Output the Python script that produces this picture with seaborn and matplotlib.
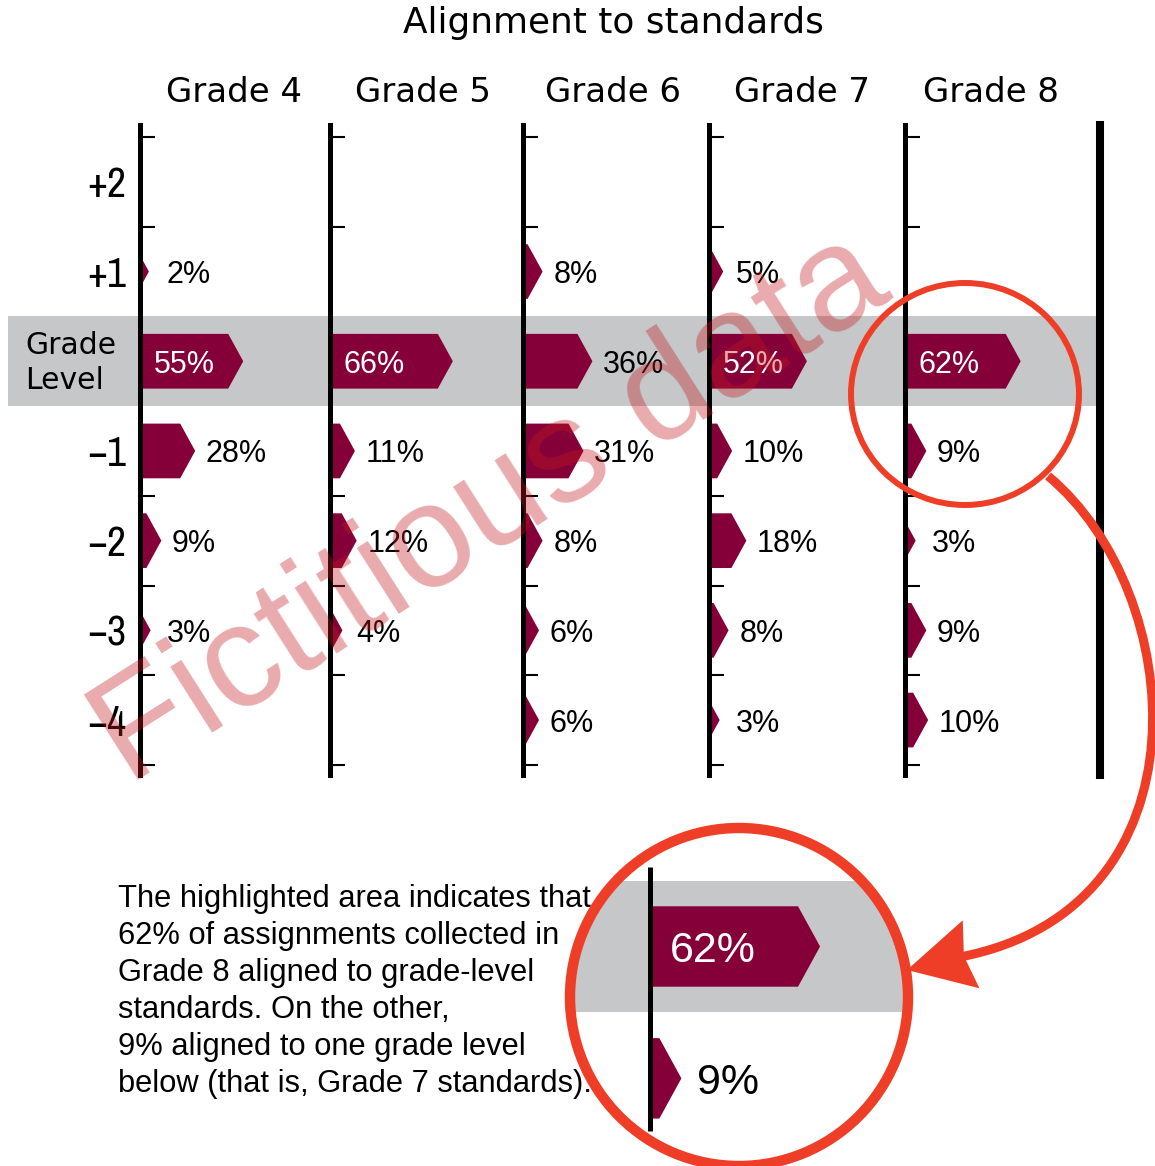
import matplotlib
matplotlib.use("Agg")
import matplotlib.pyplot as plt
from matplotlib import font_manager
from matplotlib.patches import Circle, Ellipse, PathPatch, Polygon
from matplotlib.path import Path
import numpy as np
import seaborn as sns

# ---- data ----
levels = ["+2", "+1", "Grade\nLevel", "\u22121", "\u22122", "\u22123", "\u22124"]
grades = ["Grade 4", "Grade 5", "Grade 6", "Grade 7", "Grade 8"]
grade4 = [0, 2, 55, 28, 9, 3, 0]
grade5 = [0, 0, 66, 11, 12, 4, 0]
grade6 = [0, 8, 36, 31, 8, 6, 6]
grade7 = [0, 5, 52, 10, 18, 8, 3]
grade8 = [0, 0, 62, 9, 3, 9, 10]
title = "Alignment to standards"
note_lines = [
    "The highlighted area indicates that",
    "62% of assignments collected in",
    "Grade 8 aligned to grade-level",
    "standards. On the other,",
    "9% aligned to one grade level",
    "below (that is, Grade 7 standards).",
]
watermark = "Fictitious data"

sns.set_theme(style="white")
plt.rcParams["font.family"] = ["DejaVu Sans"]
plt.rcParams["text.color"] = "black"

W, H = 1155, 1166
MAROON = "#850038"
GRAY = "#c6c7c9"
RED = "#ef3e27"
ARIAL = "Liberation Sans"

# a narrow face for the row labels, if one is installed
fonts = font_manager.fontManager.ttflist
narrow = [f.name for f in fonts if "Narrow" in f.name or "Condensed" in f.name]
if narrow:
    ROW_FONT = dict(family=narrow[0], fontsize=30)
elif any(f.name == "DejaVu Sans" and f.stretch == "condensed" for f in fonts):
    ROW_FONT = dict(family="DejaVu Sans", fontstretch="condensed", fontsize=28)
else:
    ROW_FONT = dict(family="DejaVu Sans", fontsize=24)

# layout (pixels)
col_x = [140, 330, 523, 709, 905, 1100]
ROW_PX = 89.7
PX_PCT = 1.78
ORIGIN = -3
TIP = 15 / PX_PCT
BAR_H = 0.61
y_top = -0.5 - (137 - 125) / ROW_PX
y_bot = -0.5 + (775 - 137) / ROW_PX

fig = plt.figure(figsize=(W / 100, H / 100), dpi=100)
fig.patch.set_facecolor("white")


def px_axes(x0, y0, x1, y1):
    return fig.add_axes([x0 / W, 1 - y1 / H, (x1 - x0) / W, (y1 - y0) / H])


def draw_bars(ax, values, fs, rows=None):
    for r, v in enumerate(values):
        if not v or (rows is not None and r not in rows):
            continue
        L = v - ORIGIN
        if L <= TIP:
            hh = BAR_H / 2 * L / TIP
            pts = [(ORIGIN, r - hh), (v, r), (ORIGIN, r + hh)]
        else:
            pts = [(ORIGIN, r - BAR_H / 2), (v - TIP, r - BAR_H / 2), (v, r),
                   (v - TIP, r + BAR_H / 2), (ORIGIN, r + BAR_H / 2)]
        ax.add_patch(Polygon(pts, closed=True, facecolor=MAROON, edgecolor="none", zorder=2))
        if v >= 45:
            ax.text(4.5, r, f"{v}%", color="white", fontsize=fs, family=ARIAL,
                    ha="left", va="center_baseline", zorder=3)
        else:
            ax.text(max(v + 6, 12), r, f"{v}%", color="black", fontsize=fs, family=ARIAL,
                    ha="left", va="center_baseline", zorder=3)


# row labels + band on the left
ax_lab = px_axes(8, 125, 140, 775)
ax_lab.set_xlim(8, 140)
ax_lab.set_ylim(y_bot, y_top)
ax_lab.axis("off")
ax_lab.axhspan(1.5, 2.5, color=GRAY, lw=0, zorder=0)
for r, lab in enumerate(levels):
    if "\n" in lab:
        ax_lab.text(25, r + 0.02, lab, ha="left", va="center", fontsize=21.5, linespacing=1.3)
    else:
        ax_lab.text(126, r, lab, ha="right", va="center_baseline", **ROW_FONT)

# one axes per grade
all_grades = [grade4, grade5, grade6, grade7, grade8]
for i, vals in enumerate(all_grades):
    ax = px_axes(col_x[i], 125, col_x[i + 1], 775)
    ax.set_xlim(ORIGIN, ORIGIN + (col_x[i + 1] - col_x[i]) / PX_PCT)
    ax.set_ylim(y_bot, y_top)
    ax.patch.set_visible(False)
    ax.axhspan(1.5, 2.5, color=GRAY, lw=0, zorder=0)
    for s in ["top", "bottom", "right"]:
        ax.spines[s].set_visible(False)
    ax.spines["left"].set_color("black")
    ax.spines["left"].set_linewidth(3.6)
    if i == len(all_grades) - 1:
        ax.spines["right"].set_visible(True)
        ax.spines["right"].set_color("black")
        ax.spines["right"].set_linewidth(5.8)
    ax.set_xticks([])
    ax.set_yticks([-0.5, 0.5, 3.5, 4.5, 5.5, 6.5])
    ax.tick_params(axis="y", direction="in", length=10.8, width=1.5, color="black",
                   left=True, labelleft=False)
    draw_bars(ax, vals, 22)
    fig.text((234 + 189.3 * i) / W, 1 - 92 / H, grades[i], ha="center", va="center",
             fontsize=24.5)

fig.text(613 / W, 1 - 23 / H, title, ha="center", va="center", fontsize=25.8)

for k, line in enumerate(note_lines):
    fig.text(118 / W, 1 - (907 + 37 * k) / H, line, ha="left", va="baseline",
             fontsize=22.2, family=ARIAL)

# overlay in pixel coordinates
ov = fig.add_axes([0, 0, 1, 1])
ov.set_xlim(0, W)
ov.set_ylim(H, 0)
ov.axis("off")
ov.set_zorder(10)

# zoomed inset for grade 8 (grade level and one below)
ZOOM = 1.47
ax_in = px_axes(570, 828, 908, 1166)
ax_in.set_zorder(5)
ppx, ppy = PX_PCT * ZOOM, ROW_PX * ZOOM
ax_in.set_xlim(ORIGIN - (650 - 570) / ppx, ORIGIN + (908 - 650) / ppx)
ax_in.set_ylim(2 + (1166 - 946.5) / ppy, 2 - (946.5 - 828) / ppy)
ax_in.axis("off")
ax_in.axhspan(1.5, 2.5, color=GRAY, lw=0, zorder=0)
ax_in.vlines(ORIGIN, 1.4, 3.4, color="black", lw=3.6, zorder=4)
draw_bars(ax_in, grade8, 31, rows=[2, 3])
clip = Circle((739, 997), 166, transform=ov.transData)
for art in ax_in.patches + ax_in.texts + ax_in.collections + ax_in.lines:
    art.set_clip_on(True)
    art.set_clip_path(clip)

ov.text(491, 510, watermark, rotation=32.5, rotation_mode="anchor", ha="center", va="center",
        fontsize=106, family=ARIAL, color="#c31b20", alpha=0.37)
ov.add_patch(Ellipse((965, 394), 228, 222, fill=False, ec=RED, lw=4.3))
ov.add_patch(Circle((739, 997), 169, fill=False, ec=RED, lw=7.5))

# curved connector ending in a barbed head
tip = np.array([907.0, 970.0])
notch = np.array([960.0, 957.0])
curve = Path([(1048, 476), (1187, 591), (1215, 908), tuple(notch)],
             [Path.MOVETO, Path.CURVE4, Path.CURVE4, Path.CURVE4])
ov.add_patch(PathPatch(curve, fill=False, ec=RED, lw=6.5, capstyle="butt"))
d = (tip - notch) / np.linalg.norm(tip - notch)
perp = np.array([-d[1], d[0]])
base = tip - 66 * d
ov.add_patch(Polygon([tip, base + 35 * perp, notch - 4 * d, base - 35 * perp],
                     closed=True, fc=RED, ec="none"))

fig.savefig("out.png", dpi=100)
